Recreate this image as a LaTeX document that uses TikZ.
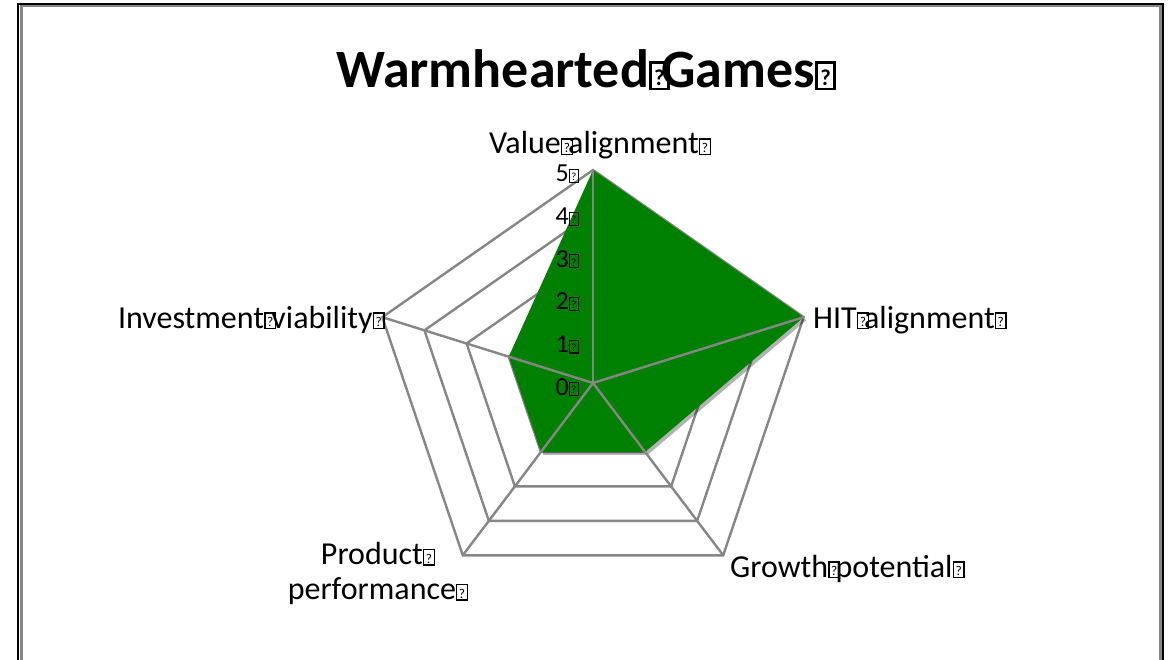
\documentclass[tikz,border=0pt]{standalone}
\usepackage{fontspec}
\usepackage{graphicx}
\setmainfont{Carlito}
\usetikzlibrary{calc}
\definecolor{gridgray}{RGB}{134,134,134}
\definecolor{areagreen}{RGB}{0,128,0}
\newcommand{\qm}{{\fboxsep=0pt\fboxrule=0.045em\framebox[0.38em][c]{\rule{0pt}{0.45em}\raisebox{0.04em}{\scalebox{0.42}{?}}}}}
\newcommand{\qs}{\makebox[0.23em][l]{\qm}}

\begin{document}
\begin{tikzpicture}[x=1pt, y=-1pt,
	gridline/.style={draw=gridgray, line width=2.4pt},
	area/.style={fill=areagreen},
	areashadow/.style={fill=black, opacity=0.3},
	catlabel/.style={inner sep=0pt, font=\fontsize{32}{35}\selectfont},
	ticklabel/.style={inner sep=0pt, anchor=base east, font=\fontsize{26}{30}\selectfont}]
	\useasboundingbox (0,0) rectangle (1170,660);
	\clip (0,0) rectangle (1170,660);
	\draw [black, line width=2pt] (17.5,4) rectangle (1163,700);
	\draw [gridgray, line width=2.4pt] (21.3,700) -- (21.3,6.3) -- (1160.5,6.3) -- (1160.5,700);
	\node [inner sep=0pt, anchor=base, font=\fontsize{54}{60}\bfseries] (title) at (586,88) {Warmhearted\qs Games\qm};
	\coordinate (c) at (593,383);
	\foreach \k/\ang in {1/90,2/18,3/-54,4/-126,5/162} {
		\foreach \l in {1,...,5} {
			\coordinate (v\k-\l) at ({593+1.04*42.6*\l*cos(\ang)}, {383-42.6*\l*sin(\ang)});
		}
	}
	\foreach \l in {1,...,5} {
		\draw [gridline] (v1-\l) -- (v2-\l) -- (v3-\l) -- (v4-\l) -- (v5-\l) -- cycle;
	}
	\fill [areashadow] ([shift={(2.5,3)}]v1-5) -- ([shift={(2.5,3)}]v2-5) -- ([shift={(2.5,3)}]v3-2) -- ([shift={(2.5,3)}]v4-2) -- ([shift={(2.5,3)}]v5-2) -- cycle;
	\fill [area] (v1-5) -- (v2-5) -- (v3-2) -- (v4-2) -- (v5-2) -- cycle;
	\foreach \k in {1,...,5} {
		\draw [gridline] (c) -- (v\k-5);
	}
	\foreach \l in {0,...,5} {
		\node [ticklabel] (tick\l) at (579, {395-42.6*\l}) {\l\qm};
	}
	\node [catlabel, anchor=base] (value) at (600,154) {Value\qs alignment\qm};
	\node [catlabel, anchor=base west] (hit) at (813,328) {HIT\qs alignment\qm};
	\node [catlabel, anchor=base west] (growth) at (730,577) {Growth\qs potential\qm};
	\node [catlabel, anchor=north, align=center] (product) at (378,542) {Product\qm\\performance\qm};
	\node [catlabel, anchor=base east] (invest) at (385,328) {Investment\qs viability\qm};
\end{tikzpicture}
\end{document}
